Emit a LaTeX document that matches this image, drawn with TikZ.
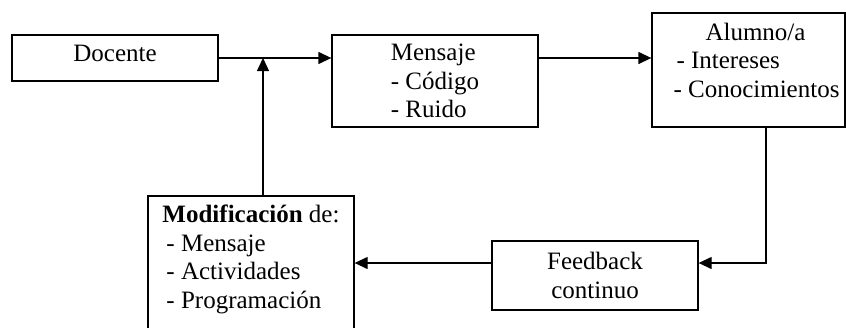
\documentclass[tikz,border=0pt]{standalone}
\usepackage{fontspec}
\setmainfont{Liberation Serif}
\usetikzlibrary{arrows.meta}
\begin{document}
\begin{tikzpicture}[x=1pt,y=-1pt,line width=1.3pt,
   every node/.style={font=\fontsize{25}{28.5}\selectfont},
   caja/.style={draw,inner sep=0pt},
   flecha/.style={-{Triangle[length=13pt,width=12pt]}}]
   \useasboundingbox (0,0) rectangle (846,327);
   % cajas
   \node[caja,minimum width=206pt,minimum height=46pt,text depth=9pt] (docente) at (115,58) {Docente};
   \node[caja,minimum width=206pt,minimum height=92pt,align=left] (mensaje) at (435,81)
      {Mensaje\\- Código\\- Ruido};
   \node[caja,minimum width=193pt,minimum height=114pt,align=left] (alumno) at (748.5,70)
      {\hspace*{48pt}Alumno/a\\\hspace*{19pt}- Intereses\\\hspace*{16pt}- Conocimientos\rule[-20pt]{0pt}{20pt}};
   \node[caja,minimum width=206pt,minimum height=69pt,align=center] (feedback) at (595,275.5)
      {Feedback\\continuo};
   \node[caja,minimum width=206pt,minimum height=136pt,align=left] (modif) at (251,264)
      {\textbf{Modificación} de:\\\hspace*{4pt}- Mensaje\\\hspace*{4pt}- Actividades\\\hspace*{4pt}- Programación\rule[-15pt]{0pt}{15pt}};
   % puntos de giro
   \coordinate (cruce) at (263,58);
   \coordinate (giro) at (766,263);
   % flechas
   \draw[flecha] (docente.east |- cruce) -- (cruce -| mensaje.west);
   \draw[flecha] (modif.north -| cruce) -- (cruce);
   \draw[flecha] (mensaje.east |- cruce) -- (cruce -| alumno.west);
   \draw[flecha] (alumno.south -| giro) -- (giro) -- (giro -| feedback.east);
   \draw[flecha] (feedback.west |- giro) -- (giro -| modif.east);
\end{tikzpicture}
\end{document}
